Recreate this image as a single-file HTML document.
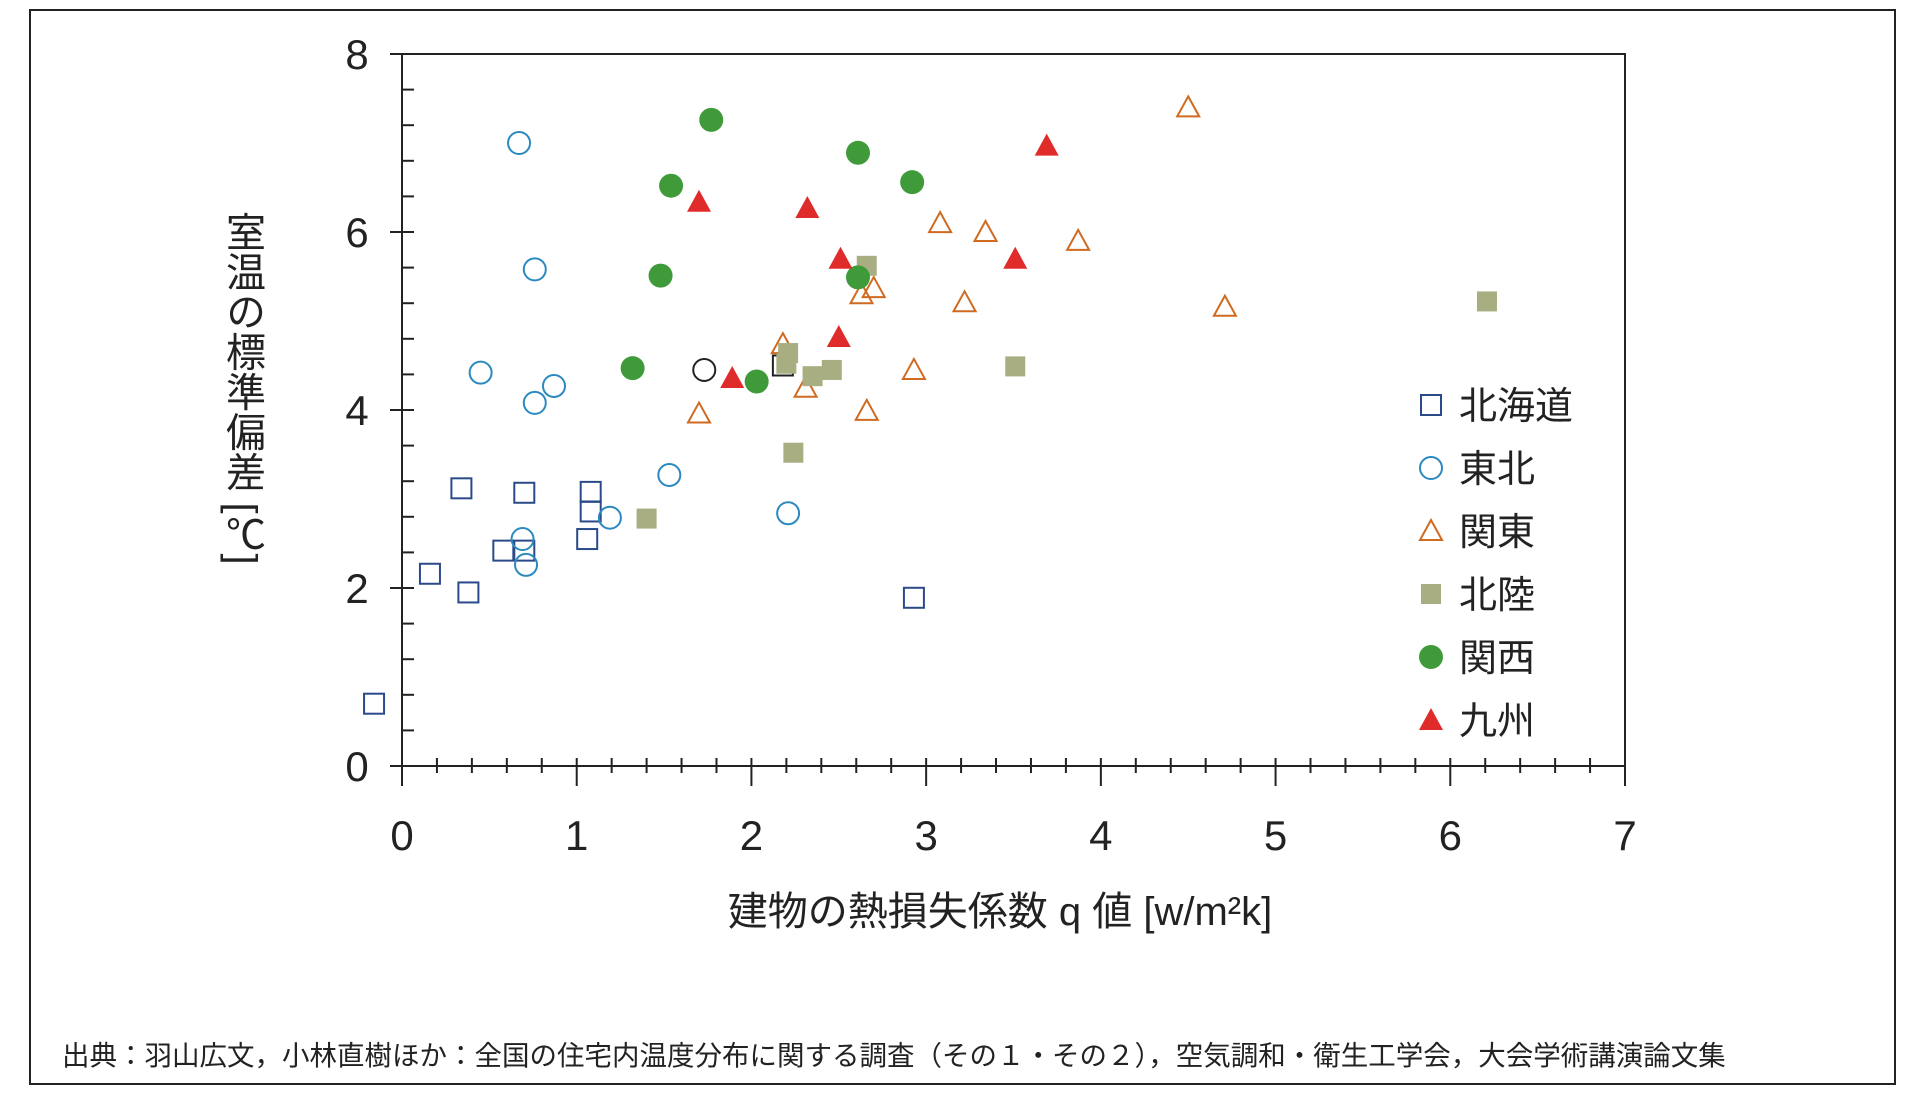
<!DOCTYPE html>
<html><head><meta charset="utf-8">
<style>
body{margin:0;background:#fff;}
svg text{font-family:"Liberation Sans","Noto Sans CJK JP",sans-serif;fill:#222;}
</style></head>
<body>
<svg width="1920" height="1112" viewBox="0 0 1920 1112">
<rect x="30" y="10" width="1865" height="1074" fill="#fff" stroke="#222" stroke-width="2"/>
<g id="axes"></g>
<g id="marks"></g>
<g id="legend"></g>
<text x="242" y="388" font-size="40" text-anchor="middle" style="writing-mode:vertical-rl">室温の標準偏差 [℃]</text>
<text x="1000" y="925" font-size="40" text-anchor="middle">建物の熱損失係数 q 値 [w/m²k]</text>
<text x="62" y="1065" font-size="27.5">出典：羽山広文，小林直樹ほか：全国の住宅内温度分布に関する調査（その１・その２），空気調和・衛生工学会，大会学術講演論文集</text>
</svg>
<script>
const xTicks=[0,1,2,3,4,5,6,7];
const yTicks=[0,2,4,6,8];
const hokkaidoX=[-0.16,0.16,0.38,0.34,0.70,0.58,0.70,1.08,1.08,1.06,2.93,2.18];
const hokkaidoY=[0.70,2.16,1.95,3.12,3.07,2.42,2.42,3.08,2.86,2.55,1.89,4.50];
const tohokuX=[0.67,0.76,0.45,0.76,0.87,1.53,1.19,0.69,0.71,2.21,1.73];
const tohokuY=[7.00,5.58,4.42,4.08,4.27,3.27,2.79,2.55,2.26,2.84,4.45];
const kantoX=[4.50,3.08,3.34,3.87,3.22,4.71,2.63,2.70,2.18,2.31,2.93,2.66,1.70];
const kantoY=[7.40,6.10,6.00,5.90,5.21,5.16,5.30,5.37,4.74,4.25,4.45,3.99,3.96];
const hokurikuX=[2.66,6.21,3.51,2.46,2.35,2.20,2.21,2.24,1.40];
const hokurikuY=[5.62,5.22,4.49,4.45,4.38,4.52,4.64,3.52,2.78];
const kansaiX=[1.77,1.54,2.61,2.92,1.48,2.61,1.32,2.03];
const kansaiY=[7.26,6.52,6.89,6.56,5.51,5.49,4.47,4.32];
const kyushuX=[1.70,2.32,3.69,2.51,3.51,2.50,1.89];
const kyushuY=[6.34,6.27,6.97,5.70,5.70,4.82,4.36];
const legendLabels=["北海道","東北","関東","北陸","関西","九州"];

const NS="http://www.w3.org/2000/svg";
const X0=402,X1=1625,Y0=766,Y1=54;
const sx=v=>X0+(X1-X0)*v/7;
const sy=v=>Y0-(Y0-Y1)*v/8;
function mk(t,a,p){const e=document.createElementNS(NS,t);for(const k in a)e.setAttribute(k,a[k]);p.appendChild(e);return e;}
const axes=document.getElementById('axes');
const L={stroke:"#222","stroke-width":2};
const frame=mk('path',Object.assign({d:`M${X0-12} ${Y1}H${X1}V${Y0}H${X0}V${Y1}`,fill:"none"},L),axes);


for(let v=0;v<=8.001;v+=0.4){
  const y=sy(v);const major=Math.abs(v/2-Math.round(v/2))<1e-6;
  const t=mk('line',Object.assign({x1:major?X0-12:X0,x2:X0+12,y1:y,y2:y},L),axes);
  
  
}
for(let v=0;v<=7.001;v+=0.2){
  const x=sx(v);const major=Math.abs(v-Math.round(v))<1e-6;
  const t=mk('line',Object.assign({x1:x,x2:x,y1:Y0-8,y2:major?Y0+20:Y0+7},L),axes);
  
  
}
yTicks.forEach(v=>{const t=mk('text',{x:357,y:sy(v)+15,"font-size":42,"text-anchor":"middle"},axes);t.textContent=v;
  
  });
xTicks.forEach(v=>{const t=mk('text',{x:sx(v),y:850,"font-size":42,"text-anchor":"middle"},axes);t.textContent=v;
  
  });

const marks=document.getElementById('marks');
function sym(type,x,y,p,dark){
  const r=10;let e;
  if(type==0) e=mk('rect',{x:x-r,y:y-r,width:2*r,height:2*r,fill:"none",stroke:dark?"#222":"#2b4a8a","stroke-width":2},p);
  else if(type==1) e=mk('circle',{cx:x,cy:y,r:11,fill:"none",stroke:dark?"#222":"#2a8ac0","stroke-width":2},p);
  else if(type==2) e=mk('path',{d:`M${x} ${y-11}L${x+11} ${y+9}L${x-11} ${y+9}Z`,fill:"none",stroke:"#d06a20","stroke-width":2},p);
  else if(type==3) e=mk('rect',{x:x-r,y:y-r,width:2*r,height:2*r,fill:"#a8ae82"},p);
  else if(type==4) e=mk('circle',{cx:x,cy:y,r:12,fill:"#3f9a3a"},p);
  else e=mk('path',{d:`M${x} ${y-12}L${x+12} ${y+10}L${x-12} ${y+10}Z`,fill:"#e02b2b"},p);
  return e;
}
const series=[[hokkaidoX,hokkaidoY,'hokkaido'],[tohokuX,tohokuY,'tohoku'],[kantoX,kantoY,'kanto'],[hokurikuX,hokurikuY,'hokuriku'],[kansaiX,kansaiY,'kansai'],[kyushuX,kyushuY,'kyushu']];
series.forEach((s,i)=>{s[0].forEach((xv,j)=>{
  const dark=(i<2 && j==s[0].length-1);
  const e=sym(i,sx(xv),sy(s[1][j]),marks,dark);
  
  
});});
const lg=document.getElementById('legend');
legendLabels.forEach((lab,i)=>{
  const y=405+i*63;
  const e=sym(i,1431,y,lg,false);
  
  
  const t=mk('text',{x:1459,y:y+14,"font-size":38},lg);t.textContent=lab;
  
  
});
</script>
</body></html>
